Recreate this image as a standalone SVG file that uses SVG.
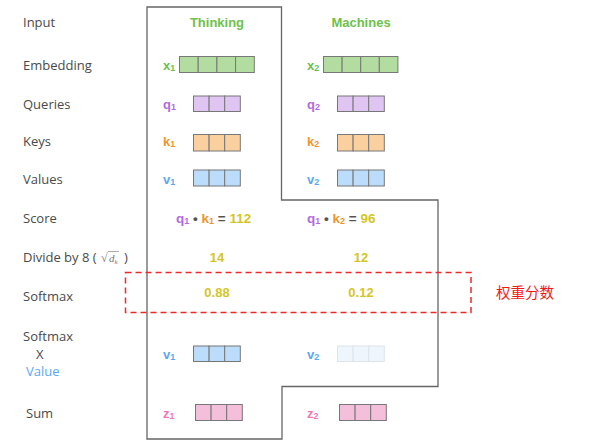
<svg xmlns="http://www.w3.org/2000/svg" width="594" height="448" viewBox="0 0 594 448">
<style>
.lbl{font-family:"Open Sans","Liberation Sans",sans-serif;font-size:13px;fill:#4a4a4a}
.b{font-family:"Liberation Sans",Arial,sans-serif;font-weight:bold;font-size:13px}
.sc{font-size:13.5px}
.sub{font-size:9px}
.g{fill:#6cc24a}.p{fill:#b36ae2}.o{fill:#f0932b}.bl{fill:#5aa9f5}.pk{fill:#ee78b7}.y{fill:#d4c526}.d{fill:#555}
.cell{stroke:#777;stroke-width:1}
.cg{fill:#b3dca0}.cp{fill:#e0c5f3}.co{fill:#fbd09f}.cb{fill:#bbdcfa}.ck{fill:#f4bfdb}
.cf{fill:#eef5fd;stroke:#dde4ec;stroke-width:1}
</style>
<rect width="594" height="448" fill="#fff"/>
<g id="row-labels" class="lbl">
<text x="23" y="27">Input</text>
<text x="23" y="70">Embedding</text>
<text x="23" y="109">Queries</text>
<text x="23" y="146">Keys</text>
<text x="23" y="184">Values</text>
<text x="23" y="223">Score</text>
<text x="23" y="262">Divide by 8 (</text>
<text x="101" y="262" font-family="Liberation Serif,serif" font-size="12" fill="#777">√</text>
<line x1="108" y1="251.5" x2="119" y2="251.5" stroke="#888" stroke-width="0.7"/>
<text x="109" y="262" font-family="Liberation Serif,serif" font-size="11" font-style="italic" fill="#777">d<tspan font-size="7" dy="2">k</tspan></text>
<text x="124" y="262">)</text>
<text x="23" y="301">Softmax</text>
<text x="23" y="341">Softmax</text>
<text x="36" y="359">X</text>
<text x="26" y="376" fill="#5aa9f5">Value</text>
<text x="26" y="418">Sum</text>
</g>
<g id="outline"><path d="M147,7 H281.5 V200 H438 V386.5 H282 V439 H147 Z" fill="none" stroke="#666" stroke-width="1.3"/></g>
<g id="thinking">
<text class="b g" x="217" y="27" text-anchor="middle">Thinking</text>
<text class="b g" x="163" y="70">x<tspan class="sub" dy="1">1</tspan></text>
<g class="cell cg"><rect x="179.5" y="56.5" width="18.7" height="16"/><rect x="198.2" y="56.5" width="18.7" height="16"/><rect x="216.9" y="56.5" width="18.7" height="16"/><rect x="235.6" y="56.5" width="18.7" height="16"/></g>
<text class="b p" x="163" y="109">q<tspan class="sub" dy="1">1</tspan></text>
<g class="cell cp"><rect x="193.5" y="96" width="15.6" height="15.5"/><rect x="209.1" y="96" width="15.6" height="15.5"/><rect x="224.7" y="96" width="15.6" height="15.5"/></g>
<text class="b o" x="163" y="146">k<tspan class="sub" dy="1">1</tspan></text>
<g class="cell co"><rect x="193.5" y="134.5" width="15.6" height="16.5"/><rect x="209.1" y="134.5" width="15.6" height="16.5"/><rect x="224.7" y="134.5" width="15.6" height="16.5"/></g>
<text class="b bl" x="163" y="184">v<tspan class="sub" dy="1">1</tspan></text>
<g class="cell cb"><rect x="193.5" y="170" width="15.6" height="16"/><rect x="209.1" y="170" width="15.6" height="16"/><rect x="224.7" y="170" width="15.6" height="16"/></g>
<text class="b sc" x="176" y="223"><tspan class="p">q</tspan><tspan class="p sub" dy="1">1</tspan><tspan class="d" dy="-1"> • </tspan><tspan class="o">k</tspan><tspan class="o sub" dy="1">1</tspan><tspan class="d" dy="-1"> = </tspan><tspan class="y">112</tspan></text>
<text class="b y" x="217" y="262" text-anchor="middle">14</text>
<text class="b y" x="217" y="297" text-anchor="middle">0.88</text>
<text class="b bl" x="163" y="359">v<tspan class="sub" dy="1">1</tspan></text>
<g class="cell cb"><rect x="193.5" y="346" width="15.6" height="15.5"/><rect x="209.1" y="346" width="15.6" height="15.5"/><rect x="224.7" y="346" width="15.6" height="15.5"/></g>
<text class="b pk" x="163" y="418">z<tspan class="sub" dy="1">1</tspan></text>
<g class="cell ck"><rect x="195.5" y="404.5" width="15.6" height="16"/><rect x="211.1" y="404.5" width="15.6" height="16"/><rect x="226.7" y="404.5" width="15.6" height="16"/></g>
</g>
<g id="machines">
<text class="b g" x="361" y="27" text-anchor="middle">Machines</text>
<text class="b g" x="307" y="70">x<tspan class="sub" dy="1">2</tspan></text>
<g class="cell cg"><rect x="323.5" y="56.5" width="18.6" height="16"/><rect x="342.1" y="56.5" width="18.6" height="16"/><rect x="360.7" y="56.5" width="18.6" height="16"/><rect x="379.3" y="56.5" width="18.6" height="16"/></g>
<text class="b p" x="307" y="109">q<tspan class="sub" dy="1">2</tspan></text>
<g class="cell cp"><rect x="337.5" y="96" width="15.6" height="15.5"/><rect x="353.1" y="96" width="15.6" height="15.5"/><rect x="368.7" y="96" width="15.6" height="15.5"/></g>
<text class="b o" x="307" y="146">k<tspan class="sub" dy="1">2</tspan></text>
<g class="cell co"><rect x="337.5" y="134.5" width="15.6" height="16.5"/><rect x="353.1" y="134.5" width="15.6" height="16.5"/><rect x="368.7" y="134.5" width="15.6" height="16.5"/></g>
<text class="b bl" x="307" y="184">v<tspan class="sub" dy="1">2</tspan></text>
<g class="cell cb"><rect x="337.5" y="170" width="15.6" height="16"/><rect x="353.1" y="170" width="15.6" height="16"/><rect x="368.7" y="170" width="15.6" height="16"/></g>
<text class="b sc" x="307" y="223"><tspan class="p">q</tspan><tspan class="p sub" dy="1">1</tspan><tspan class="d" dy="-1"> • </tspan><tspan class="o">k</tspan><tspan class="o sub" dy="1">2</tspan><tspan class="d" dy="-1"> = </tspan><tspan class="y">96</tspan></text>
<text class="b y" x="361" y="262" text-anchor="middle">12</text>
<text class="b y" x="361" y="297" text-anchor="middle">0.12</text>
<text class="b bl" x="307" y="359">v<tspan class="sub" dy="1">2</tspan></text>
<g class="cf"><rect x="337.5" y="346" width="15.6" height="15.5"/><rect x="353.1" y="346" width="15.6" height="15.5"/><rect x="368.7" y="346" width="15.6" height="15.5"/></g>
<text class="b pk" x="307" y="418">z<tspan class="sub" dy="1">2</tspan></text>
<g class="cell ck"><rect x="339.5" y="404.5" width="15.6" height="16"/><rect x="355.1" y="404.5" width="15.6" height="16"/><rect x="370.7" y="404.5" width="15.6" height="16"/></g>
</g>
<g id="weights">
<rect x="125.5" y="272.5" width="345.5" height="40" fill="none" stroke="#f02828" stroke-width="1.5" stroke-dasharray="6,4"/>
<text x="496" y="298" font-family="Noto Sans CJK SC,sans-serif" font-size="14.5" fill="#f01818">权重分数</text>
</g>
<g id="connectors"/>
</svg>
